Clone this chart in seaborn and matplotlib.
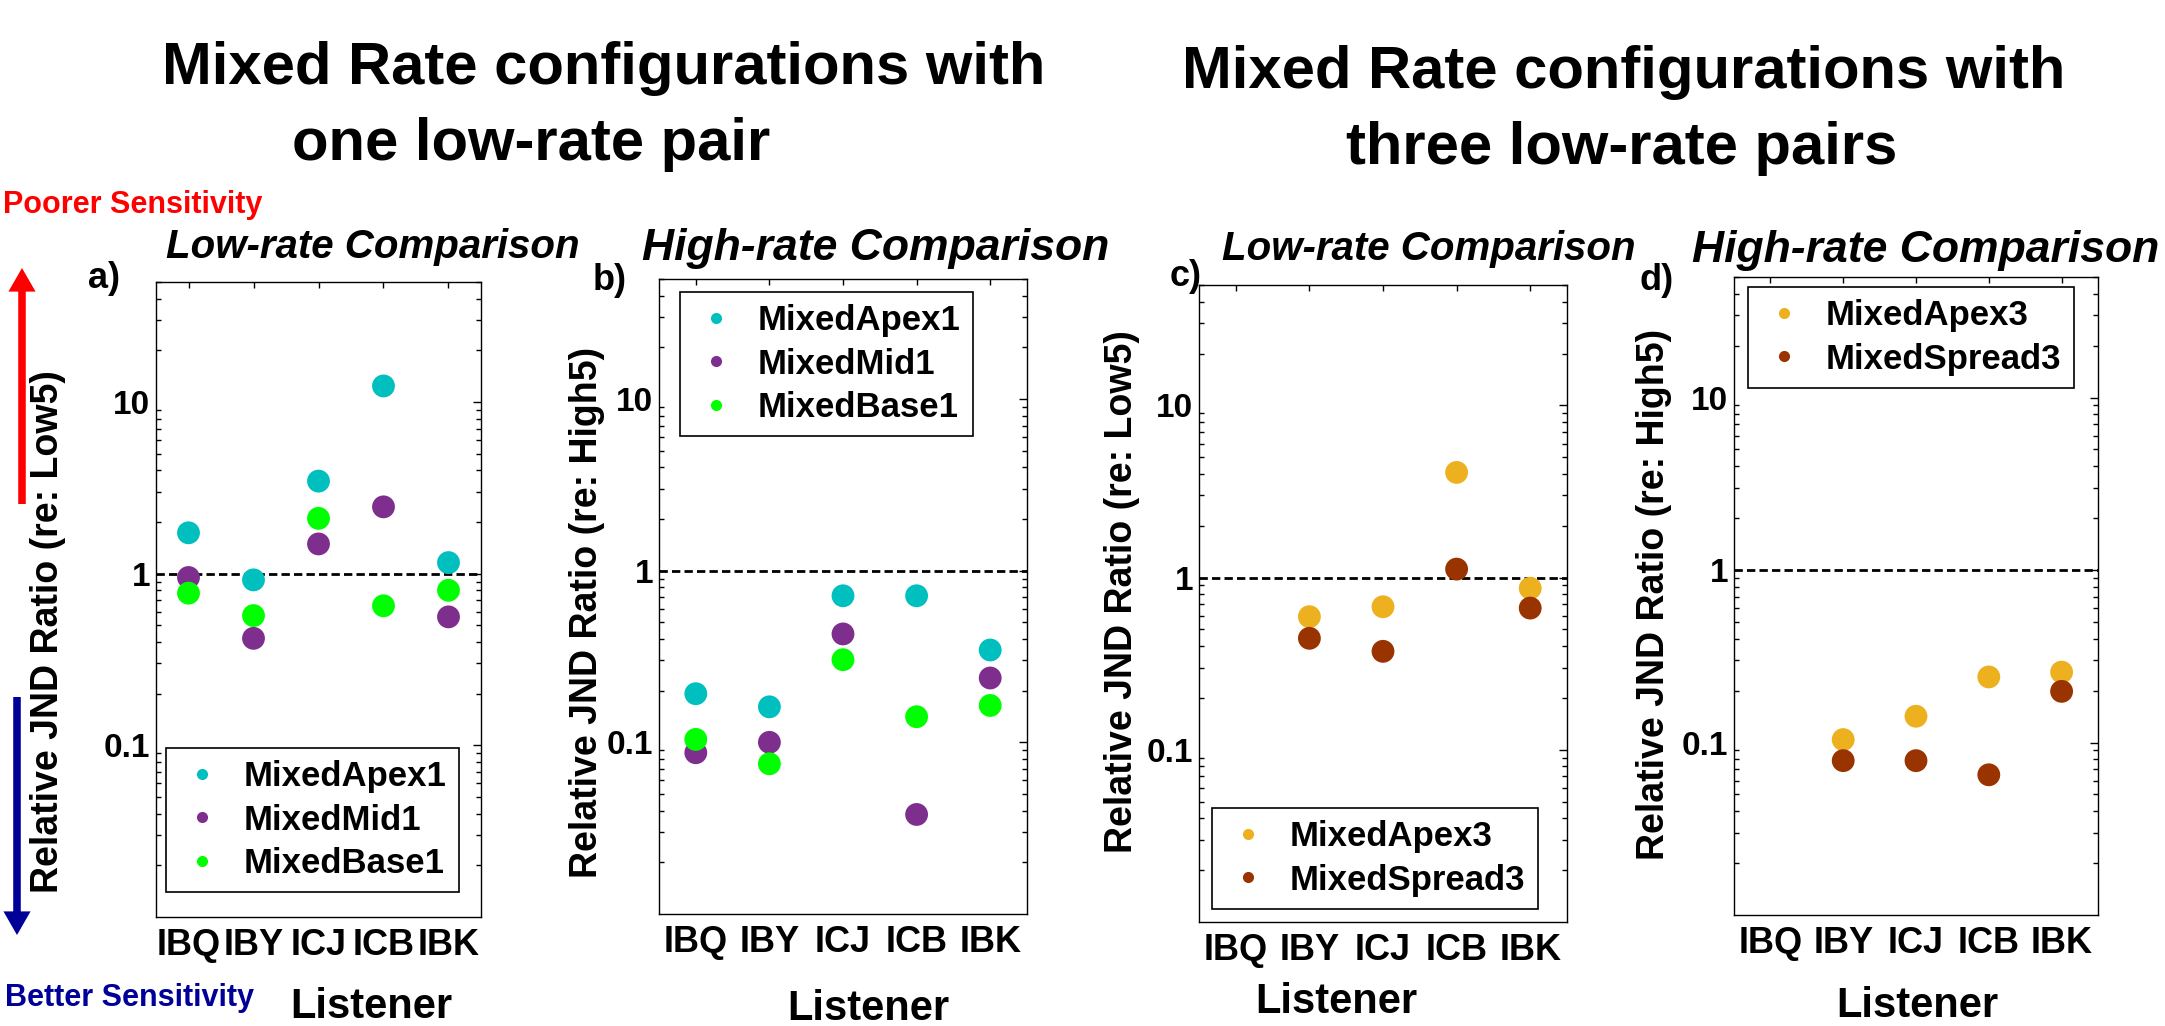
import numpy as np
import pandas as pd
import matplotlib
matplotlib.use("Agg")
import matplotlib.pyplot as plt
import seaborn as sns
from matplotlib.lines import Line2D
from matplotlib.patches import FancyArrowPatch, ArrowStyle
from matplotlib.ticker import LogLocator, NullFormatter, FixedLocator

# ---------------- data ----------------
listeners = ["IBQ", "IBY", "ICJ", "ICB", "IBK"]
one_pair_series = ["MixedApex1", "MixedMid1", "MixedBase1"]
three_pair_series = ["MixedApex3", "MixedSpread3"]

a_apex1 = [1.73, 0.92, 3.46, 12.4, 1.16]
a_mid1 = [0.95, 0.42, 1.49, 2.45, 0.56]
a_base1 = [0.77, 0.57, 2.10, 0.65, 0.80]

b_apex1 = [0.192, 0.161, 0.714, 0.714, 0.345]
b_mid1 = [0.087, 0.100, 0.428, 0.038, 0.237]
b_base1 = [0.104, 0.075, 0.303, 0.141, 0.164]

c_apex3 = [np.nan, 0.593, 0.677, 4.08, 0.867]
c_spread3 = [np.nan, 0.444, 0.373, 1.12, 0.665]

d_apex3 = [np.nan, 0.104, 0.142, 0.240, 0.256]
d_spread3 = [np.nan, 0.0785, 0.0785, 0.065, 0.198]

yticks = [0.1, 1, 10]
ytick_labels = ["0.1", "1", "10"]

colors_one = ["#00BFBF", "#7E2F8E", "#00FF00"]
colors_three = ["#EDB120", "#993300"]

# ---------------- style ----------------
sns.set_style("white")
plt.rcParams["font.family"] = ["Liberation Sans", "DejaVu Sans"]
plt.rcParams["font.weight"] = "bold"
for key in ["text.color", "axes.labelcolor", "xtick.color", "ytick.color", "axes.edgecolor"]:
    plt.rcParams[key] = "black"

W, H = 2165, 1026
fig = plt.figure(figsize=(W / 100, H / 100), dpi=100)
fig.patch.set_facecolor("white")


def fx(x):
    return x / W


def fy(y):
    return 1 - y / H


def long_df(series_names, series_values):
    rows = []
    for name, vals in zip(series_names, series_values):
        for i, (lab, v) in enumerate(zip(listeners, vals)):
            rows.append({"Listener": lab, "pos": i, "Series": name, "Ratio": v})
    return pd.DataFrame(rows)


panels = [
    dict(box=(156, 282, 481, 917), names=one_pair_series, vals=[a_apex1, a_mid1, a_base1],
         colors=colors_one, ylabel="Relative JND Ratio (re: Low5)", title="Low-rate Comparison",
         title_size=29, title_xy=(166, 258), tag="a)", tag_xy=(104, 279), ylab_xy=(48, 632),
         xlab_xy=(371, 1018), leg_xy=(166, 748)),
    dict(box=(659, 279, 1027, 914), names=one_pair_series, vals=[b_apex1, b_mid1, b_base1],
         colors=colors_one, ylabel="Relative JND Ratio (re: High5)", title="High-rate Comparison",
         title_size=32, title_xy=(642, 260), tag="b)", tag_xy=(610, 280), ylab_xy=(587, 612),
         xlab_xy=(868, 1020), leg_xy=(680, 292)),
    dict(box=(1199, 285, 1567, 922), names=three_pair_series, vals=[c_apex3, c_spread3],
         colors=colors_three, ylabel="Relative JND Ratio (re: Low5)", title="Low-rate Comparison",
         title_size=29, title_xy=(1222, 260), tag="c)", tag_xy=(1186, 276), ylab_xy=(1122, 592),
         xlab_xy=(1336, 1013), leg_xy=(1212, 808)),
    dict(box=(1734, 277, 2098, 915), names=three_pair_series, vals=[d_apex3, d_spread3],
         colors=colors_three, ylabel="Relative JND Ratio (re: High5)", title="High-rate Comparison",
         title_size=32, title_xy=(1692, 262), tag="d)", tag_xy=(1657, 280), ylab_xy=(1654, 594),
         xlab_xy=(1917, 1017), leg_xy=(1748, 287)),
]

for p in panels:
    l, t, r, b = p["box"]
    ax = fig.add_axes([fx(l), fy(b), (r - l) / W, (b - t) / H])
    df = long_df(p["names"], p["vals"])
    sns.scatterplot(data=df, x="pos", y="Ratio", hue="Series", hue_order=p["names"],
                    palette=p["colors"], s=270, linewidth=0, ax=ax, legend=False, zorder=3)
    ax.set_yscale("log")
    ax.set_ylim(0.01, 50)
    ax.set_xlim(-0.5, 4.5)
    ax.axhline(1, color="black", lw=2.0, ls="--", dashes=(3.0, 1.5), zorder=2)

    ax.set_xticks(range(len(listeners)))
    ax.set_xticklabels(listeners, fontsize=26, fontweight="bold")
    ax.yaxis.set_major_locator(FixedLocator(yticks))
    ax.set_yticklabels(ytick_labels, fontsize=24, fontweight="bold")
    ax.yaxis.set_minor_locator(LogLocator(base=10, subs=np.arange(2, 10)))
    ax.yaxis.set_minor_formatter(NullFormatter())
    ax.tick_params(axis="both", which="major", direction="in", length=6, width=1.0,
                   top=True, right=True, colors="black")
    ax.tick_params(axis="y", which="minor", direction="in", length=3.5, width=1.0,
                   left=True, right=True, colors="black")
    ax.tick_params(axis="x", which="major", pad=8, length=4)
    ax.tick_params(axis="y", which="major", pad=4)
    for sp in ax.spines.values():
        sp.set_visible(True)
        sp.set_color("black")
        sp.set_linewidth(1.0)
    ax.grid(False)

    ax.set_ylabel(p["ylabel"], fontsize=27, fontweight="bold")
    ax.yaxis.set_label_coords(fx(p["ylab_xy"][0]), fy(p["ylab_xy"][1]), transform=fig.transFigure)
    ax.yaxis.label.set_va("center")
    ax.set_xlabel("Listener", fontsize=30, fontweight="bold")
    ax.xaxis.set_label_coords(fx(p["xlab_xy"][0]), fy(p["xlab_xy"][1]), transform=fig.transFigure)
    ax.xaxis.label.set_va("baseline")

    fig.text(fx(p["title_xy"][0]), fy(p["title_xy"][1]), p["title"], fontsize=p["title_size"],
             fontweight="bold", fontstyle="italic", ha="left", va="baseline")
    fig.text(fx(p["tag_xy"][0]), fy(p["tag_xy"][1]), p["tag"], fontsize=26,
             fontweight="bold", ha="center", va="center")

    handles = [Line2D([], [], linestyle="none", marker="o", markersize=8,
                      markerfacecolor=c, markeredgewidth=0) for c in p["colors"]]
    leg = ax.legend(handles, p["names"], loc="upper left",
                    bbox_to_anchor=(fx(p["leg_xy"][0]), fy(p["leg_xy"][1])),
                    bbox_transform=fig.transFigure, borderaxespad=0,
                    prop=dict(size=25, weight="bold"), frameon=True, fancybox=False,
                    framealpha=1, edgecolor="black", borderpad=0.35, labelspacing=0.3,
                    handlelength=1.4, handletextpad=0.5)
    leg.get_frame().set_linewidth(1.2)

# ---------------- figure titles ----------------
fig.text(fx(604), fy(84), "Mixed Rate configurations with", fontsize=43, fontweight="bold",
         ha="center", va="baseline")
fig.text(fx(531), fy(160), "one low-rate pair", fontsize=43, fontweight="bold",
         ha="center", va="baseline")
fig.text(fx(1624), fy(88), "Mixed Rate configurations with", fontsize=43, fontweight="bold",
         ha="center", va="baseline")
fig.text(fx(1622), fy(164), "three low-rate pairs", fontsize=43, fontweight="bold",
         ha="center", va="baseline")

# ---------------- sensitivity arrows ----------------
fig.text(fx(262), fy(205), "Poorer Sensitivity", color="#FF0000", fontsize=22,
         fontweight="bold", ha="right", va="center")
fig.text(fx(254), fy(998), "Better Sensitivity", color="#000099", fontsize=22,
         fontweight="bold", ha="right", va="center")

style = ArrowStyle.Simple(head_length=1.0, head_width=1.15, tail_width=0.32)
fig.add_artist(FancyArrowPatch((fx(22), fy(504)), (fx(22), fy(268)), transform=fig.transFigure,
                               arrowstyle=style, mutation_scale=17, color="#FF0000",
                               shrinkA=0, shrinkB=0, lw=0))
fig.add_artist(FancyArrowPatch((fx(17), fy(697)), (fx(17), fy(935)), transform=fig.transFigure,
                               arrowstyle=style, mutation_scale=17, color="#000099",
                               shrinkA=0, shrinkB=0, lw=0))

fig.savefig("out.png", dpi=100, facecolor="white")
